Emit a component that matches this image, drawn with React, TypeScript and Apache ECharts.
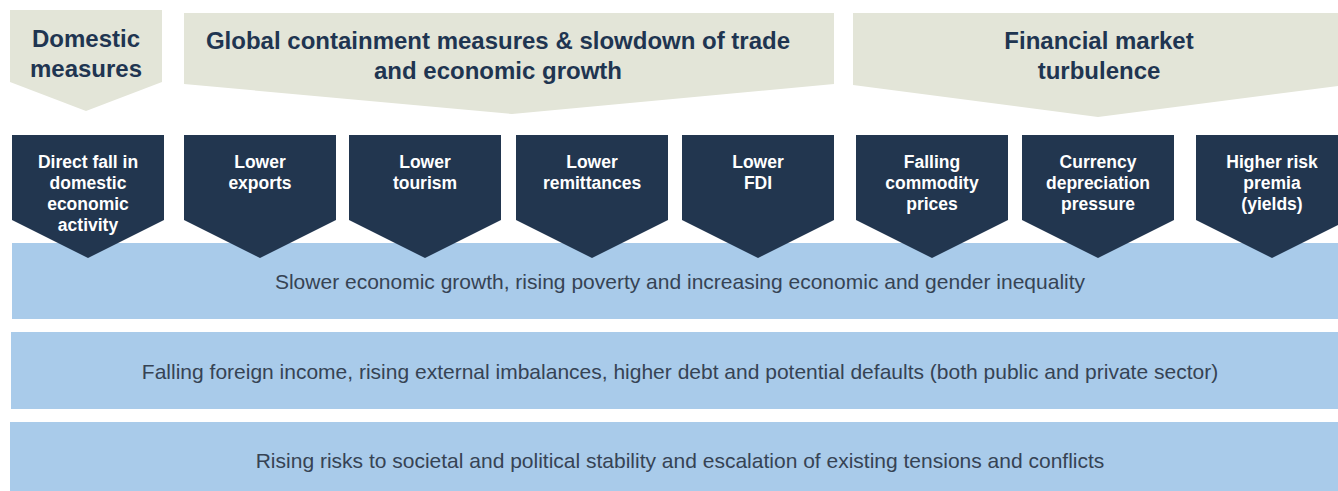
import React, { useEffect, useRef } from "react";
import * as echarts from "echarts";

// ---- Data (labels) ----
const headerLabels: string[] = [
  "Domestic\nmeasures",
  "Global containment measures & slowdown of trade\nand economic growth",
  "Financial market\nturbulence",
];
const channelLabels: string[] = [
  "Direct fall in\ndomestic\neconomic\nactivity",
  "Lower\nexports",
  "Lower\ntourism",
  "Lower\nremittances",
  "Lower\nFDI",
  "Falling\ncommodity\nprices",
  "Currency\ndepreciation\npressure",
  "Higher risk\npremia\n(yields)",
];
const outcomeLabels: string[] = [
  "Slower economic growth, rising poverty and increasing economic and gender inequality",
  "Falling foreign income, rising external imbalances, higher debt and potential defaults (both public and private sector)",
  "Rising risks to societal and political stability and escalation of existing tensions and conflicts",
];

// ---- Layout ----
const headerGeom = [
  { x0: 10, x1: 162, top: 10, shoulder: 82, tipX: 86, tipY: 111, textX: 86, textY: 53 },
  { x0: 184, x1: 834, top: 13, shoulder: 84, tipX: 512, tipY: 114, textX: 498, textY: 55 },
  { x0: 853, x1: 1346, top: 13, shoulder: 85, tipX: 1098, tipY: 117, textX: 1099, textY: 55 },
];
const channelLefts = [12, 184, 349, 516, 682, 856, 1022, 1196];
const channelW = 152;
const channelTop = 135;
const channelShoulder = 220;
const channelTip = 258;
const bandGeom = [
  { x: 12, y: 243, h: 76, cy: 281 },
  { x: 11, y: 332, h: 77, cy: 371 },
  { x: 10, y: 422, h: 80, cy: 460 },
];

const BEIGE = "#E3E5D8";
const NAVY = "#22364F";
const BLUE = "#A9CBEA";
const HEAD_TEXT = "#1F3551";
const BAND_TEXT = "#364354";
const FONT = "'Liberation Sans', Arial, sans-serif";

export default function App() {
  const ref = useRef<HTMLDivElement>(null);
  useEffect(() => {
    if (!ref.current) return;
    const chart = echarts.init(ref.current, null, { renderer: "svg" });
    const elements: any[] = [];

    // bands (behind)
    bandGeom.forEach((b, i) => {
      elements.push({
        type: "rect",
        shape: { x: b.x, y: b.y, width: 1346 - b.x, height: b.h },
        style: { fill: BLUE },
        z: 1,
      });
      elements.push({
        type: "text",
        x: 680,
        y: b.cy,
        style: {
          text: outcomeLabels[i],
          fill: BAND_TEXT,
          font: `21px ${FONT}`,
          align: "center",
          verticalAlign: "middle",
        },
        z: 3,
      });
    });

    // headers
    headerGeom.forEach((h, i) => {
      elements.push({
        type: "polygon",
        shape: {
          points: [
            [h.x0, h.top],
            [h.x1, h.top],
            [h.x1, h.shoulder],
            [h.tipX, h.tipY],
            [h.x0, h.shoulder],
          ],
        },
        style: { fill: BEIGE },
        z: 2,
      });
      elements.push({
        type: "text",
        x: h.textX,
        y: h.textY,
        style: {
          text: headerLabels[i],
          fill: HEAD_TEXT,
          font: `bold 24px ${FONT}`,
          lineHeight: 30,
          align: "center",
          verticalAlign: "middle",
        },
        z: 3,
      });
    });

    // channel chevrons
    channelLefts.forEach((x0, i) => {
      const x1 = x0 + channelW;
      const cx = x0 + channelW / 2;
      elements.push({
        type: "polygon",
        shape: {
          points: [
            [x0, channelTop],
            [x1, channelTop],
            [x1, channelShoulder],
            [cx, channelTip],
            [x0, channelShoulder],
          ],
        },
        style: { fill: NAVY },
        z: 4,
      });
      elements.push({
        type: "text",
        x: cx,
        y: 151,
        style: {
          text: channelLabels[i],
          fill: "#FFFFFF",
          font: `bold 17.5px ${FONT}`,
          lineHeight: 21,
          align: "center",
          verticalAlign: "top",
        },
        z: 5,
      });
    });

    chart.setOption({
      animation: false,
      backgroundColor: "#FFFFFF",
      graphic: { elements },
    });
    return () => chart.dispose();
  }, []);
  return (
    <div
      ref={ref}
      style={{ position: "fixed", left: 0, top: 0, width: 1338, height: 491 }}
    />
  );
}
